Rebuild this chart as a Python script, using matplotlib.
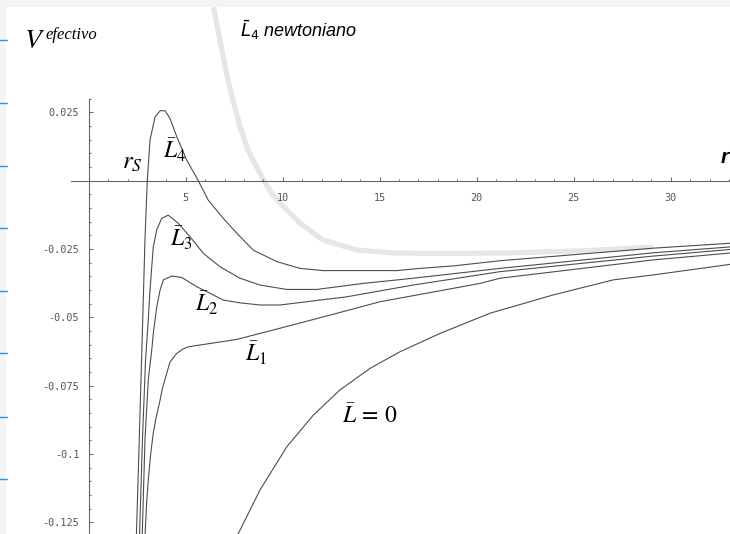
import numpy as np
import matplotlib
matplotlib.use("Agg")
import matplotlib.pyplot as plt
from matplotlib.patches import Rectangle
from matplotlib.lines import Line2D

# Potencial efectivo (Schwarzschild) leido del grafico original
# radio r y valor V para cada curva
r_L4 = [2.45, 2.62, 2.77, 2.90, 3.02, 3.16, 3.42, 3.68, 3.94, 4.19, 4.54, 5.05, 5.65, 6.16,
        6.94, 7.63, 8.48, 9.69, 10.89, 12.09, 15.88, 17.08, 18.78, 21.20, 29.09, 33.50]
V_L4 = [-0.132, -0.0913, -0.0546, -0.0216, 0.0, 0.0149, 0.0233, 0.0256, 0.0256, 0.0228, 0.0161,
        0.0076, 0.0, -0.0071, -0.0138, -0.0192, -0.0254, -0.0296, -0.0321, -0.0329, -0.0329,
        -0.0321, -0.0312, -0.0293, -0.0247, -0.0227]

r_L3 = [2.61, 2.77, 2.93, 3.07, 3.16, 3.25, 3.33, 3.51, 3.76, 4.10, 4.62, 5.22, 5.91, 6.77,
        7.80, 8.83, 10.21, 11.75, 14.15, 16.73, 21.20, 29.09, 33.50]
V_L3 = [-0.132, -0.0949, -0.0657, -0.0510, -0.0400, -0.0315, -0.0242, -0.0180, -0.0138, -0.0126,
        -0.0156, -0.0205, -0.0266, -0.0315, -0.0357, -0.0382, -0.0398, -0.0398, -0.0376, -0.0357,
        -0.0321, -0.0264, -0.0240]

r_L2 = [2.75, 2.90, 3.07, 3.25, 3.33, 3.51, 3.68, 3.85, 4.28, 4.79, 5.57, 6.25, 6.94, 7.80,
        8.83, 9.86, 11.92, 13.30, 16.72, 21.20, 29.09, 33.50]
V_L2 = [-0.132, -0.0949, -0.0730, -0.0619, -0.0559, -0.0461, -0.0400, -0.0363, -0.0349, -0.0354,
        -0.0388, -0.0412, -0.0437, -0.0447, -0.0455, -0.0455, -0.0437, -0.0425, -0.0382, -0.0333,
        -0.0276, -0.0249]

r_L1 = [2.89, 2.98, 3.07, 3.19, 3.33, 3.47, 3.68, 3.78, 4.02, 4.19, 4.54, 4.86, 5.13, 7.63,
        9.86, 12.44, 15.02, 20.17, 21.20, 29.09, 33.50]
V_L1 = [-0.132, -0.1187, -0.1096, -0.1004, -0.0923, -0.0869, -0.0803, -0.0766, -0.0705, -0.0664,
        -0.0632, -0.0616, -0.0608, -0.0581, -0.0540, -0.0492, -0.0443, -0.0376, -0.0357, -0.0290,
        -0.0262]

r_L0 = [7.50, 7.80, 8.83, 10.21, 11.58, 12.95, 14.50, 16.05, 18.11, 20.69, 23.95, 27.04, 29.09, 33.50]
V_L0 = [-0.132, -0.1279, -0.1132, -0.0974, -0.0858, -0.0766, -0.0687, -0.0626, -0.0559, -0.0485,
        -0.0418, -0.0363, -0.0345, -0.0302]

# curva newtoniana para L4 (gris, gruesa)
r_newt = [6.36, 6.66, 7.03, 7.39, 7.80, 8.21, 8.74, 9.08, 9.43, 9.86, 10.89, 12.08, 13.83,
          15.89, 18.47, 21.20, 25.33, 29.09]
V_newt = [0.0661, 0.0552, 0.0417, 0.0306, 0.0198, 0.0112, 0.0039, -0.0005, -0.0046, -0.0082,
          -0.0155, -0.0217, -0.0254, -0.0265, -0.0266, -0.0265, -0.0257, -0.0243]

x_ticks = [5, 10, 15, 20, 25, 30]
x_tick_labels = ["5", "10", "15", "20", "25", "30"]
y_ticks = [0.025, -0.025, -0.05, -0.075, -0.1, -0.125]
y_tick_labels = ["0.025", "-0.025", "-0.05", "-0.075", "-0.1", "-0.125"]

W, H = 730, 534
fig = plt.figure(figsize=(W / 100, H / 100), dpi=100)
fig.patch.set_facecolor("white")

# bandas grises del borde y marcas azules a la izquierda
fig.patches.append(Rectangle((0, 0), 6 / W, 1, transform=fig.transFigure,
                             facecolor="#f4f4f4", edgecolor="none", zorder=0))
fig.patches.append(Rectangle((0, 1 - 7 / H), 1, 7 / H, transform=fig.transFigure,
                             facecolor="#f4f4f4", edgecolor="none", zorder=0))
for py in [40, 103, 166, 228, 291, 353, 417, 479]:
    fig.lines.append(Line2D([0, 7 / W], [1 - py / H, 1 - py / H], transform=fig.transFigure,
                            color="#3a8ee6", lw=1.0))

ax = fig.add_axes([0, 0, 1, 1])
ax.set_facecolor("none")

ax.plot(r_newt, V_newt, color="#e6e6e6", lw=3.8, solid_capstyle="butt", zorder=1)

line_kw = dict(color="#4d4d4d", lw=0.8, zorder=3)
for rr, vv in [(r_L4, V_L4), (r_L3, V_L3), (r_L2, V_L2), (r_L1, V_L1), (r_L0, V_L0)]:
    ax.plot(rr, vv, **line_kw)

# ejes que se cruzan en el origen, estilo Mathematica
for s in ["top", "right"]:
    ax.spines[s].set_visible(False)
ax.spines["left"].set_position(("data", 0))
ax.spines["bottom"].set_position(("data", 0))
ax.spines["left"].set_bounds(-0.2, 0.03)
ax.spines["bottom"].set_bounds(-0.9, 40)
for s in ["left", "bottom"]:
    ax.spines[s].set_color("#666666")
    ax.spines[s].set_linewidth(0.8)
    ax.spines[s].set_zorder(2)

ax.set_xticks(x_ticks, labels=x_tick_labels)
ax.set_xticks([i for i in range(1, 35) if i % 5 != 0], minor=True)
ax.set_yticks(y_ticks, labels=y_tick_labels)
ax.set_yticks([round(v, 3) for v in np.arange(-0.13, 0.0301, 0.005)
               if abs(v) > 1e-9 and abs(round(v / 0.025) * 0.025 - v) > 1e-9], minor=True)

# escala: x0 = 88.7 px, 19.4 px por unidad; y0 = 180.7 px, 2732 px por unidad
# (se fija despues de los ticks para que set_xticks no amplie los limites)
ax.set_xlim(-88.7 / 19.4, (W - 88.7) / 19.4)
ax.set_ylim((180.7 - H) / 2732, 180.7 / 2732)

ax.tick_params(which="both", direction="in", color="#666666", width=0.7)
ax.tick_params(which="major", length=3.0)
ax.tick_params(which="minor", length=1.7)
ax.tick_params(axis="x", which="major", pad=8.5)
ax.tick_params(axis="y", which="major", pad=6.8)
for lab in ax.get_xticklabels() + ax.get_yticklabels():
    lab.set_fontfamily("DejaVu Sans Mono")
    lab.set_fontsize(7.3)
    lab.set_color("#555555")

# textos
serif = dict(math_fontfamily="stix", color="black", ha="left", va="baseline")
ax.text(-3.35, 0.0485, r"$V$", fontsize=20, **serif)
ax.text((45 - 88.7) / 19.4, (180.7 - 39) / 2732, "efectivo", fontsize=12,
        family="Liberation Serif", style="italic", ha="left", va="baseline")
ax.text(7.80, 0.0526, r"$\bar{L}_4$ newtoniano", fontsize=13, family="Liberation Sans",
        style="italic", math_fontfamily="dejavusans", ha="left", va="baseline")
ax.text(1.72, 0.0045, r"$r_S$", fontsize=18, **serif)
ax.text(3.83, 0.0082, r"$\bar{L}_4$", fontsize=17, **serif)
ax.text(4.19, -0.0242, r"$\bar{L}_3$", fontsize=17, **serif)
ax.text(5.48, -0.0479, r"$\bar{L}_2$", fontsize=17, **serif)
ax.text(8.06, -0.0663, r"$\bar{L}_1$", fontsize=17, **serif)
ax.text(13.04, -0.0888, r"$\bar{L}\,=\,0$", fontsize=17, **serif)
# etiqueta del eje r, pegada al borde derecho
ax.text((721 - 88.7) / 19.4, 0.0065, "r", fontsize=15, family="Liberation Sans",
        style="italic", weight="bold", ha="left", va="baseline")

fig.savefig("out.png", dpi=100)
